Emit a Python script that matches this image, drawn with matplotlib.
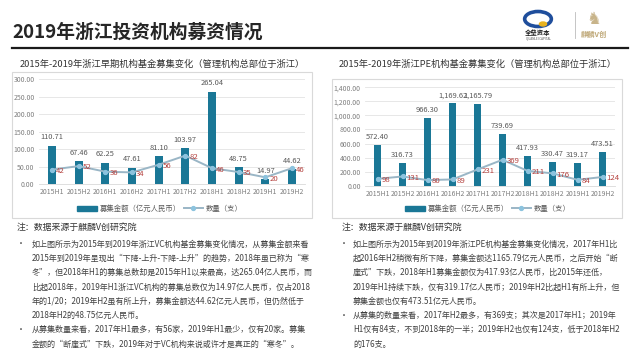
import matplotlib
matplotlib.use('Agg')
import matplotlib.pyplot as plt
from matplotlib.patches import Rectangle, Circle
from matplotlib.lines import Line2D

plt.rcParams['font.family'] = ['Noto Sans CJK SC', 'DejaVu Sans']

# data
periods = ['2015H1', '2015H2', '2016H1', '2016H2', '2017H1',
           '2017H2', '2018H1', '2018H2', '2019H1', '2019H2']
vc_amount = [110.71, 67.46, 62.25, 47.61, 81.10, 103.97, 265.04, 48.75, 14.97, 44.62]
vc_count = [42, 52, 36, 34, 56, 82, 46, 35, 20, 46]
pe_amount = [572.40, 316.73, 966.30, 1169.62, 1165.79, 739.69, 417.93, 330.47, 319.17, 473.51]
pe_count = [98, 131, 80, 89, 231, 369, 211, 176, 84, 124]

vc_ticks = [0, 50, 100, 150, 200, 250, 300]
pe_ticks = [0, 200, 400, 600, 800, 1000, 1200, 1400]

title = '2019年浙江投资机构募资情况'
vc_title = '2015年-2019年浙江早期机构基金募集变化（管理机构总部位于浙江）'
pe_title = '2015年-2019年浙江PE机构基金募集变化（管理机构总部位于浙江）'
legend_bar = '募集金额（亿元人民币）'
legend_line = '数量（支）'
note = '注：数据来源于麒麟V创研究院'

vc_text = [
    ['如上图所示为2015年到2019年浙江VC机构基金募集变化情况，从募集金额来看',
     '2015年到2019年呈现出“下降-上升-下降-上升”的趋势，2018年虽已称为“寒',
     '冬”，但2018年H1的募集总数却是2015年H1以来最高，达265.04亿人民币，而',
     '比起2018年，2019年H1浙江VC机构的募集总数仅为14.97亿人民币，仅占2018',
     '年的1/20；2019年H2虽有所上升，募集金额达44.62亿元人民币，但仍然低于',
     '2018年H2的48.75亿元人民币。'],
    ['从募集数量来看，2017年H1最多，有56家，2019年H1最少，仅有20家。募集',
     '金额的“断崖式”下跌，2019年对于VC机构来说或许才是真正的“寒冬”。'],
]
pe_text = [
    ['如上图所示为2015年到2019年浙江PE机构基金募集变化情况，2017年H1比',
     '起2016年H2稍微有所下降，募集金额达1165.79亿元人民币，之后开始“断',
     '崖式”下跌，2018年H1募集金额仅为417.93亿人民币，比2015年还低，',
     '2019年H1持续下跌，仅有319.17亿人民币；2019年H2比起H1有所上升，但',
     '募集金额也仅有473.51亿元人民币。'],
    ['从募集的数量来看，2017年H2最多，有369支；其次是2017年H1；2019年',
     'H1仅有84支，不到2018年的一半；2019年H2也仅有124支，低于2018年H2',
     '的176支。'],
]

W, H = 640, 360
BAR = '#1a7796'
LINE = '#9ab6c6'
MARK = '#8cc3de'
RED = '#b5423f'
GRAY = '#7f7f7f'

fig = plt.figure(figsize=(6.4, 3.6), dpi=100)
fig.patch.set_facecolor('white')


def px(x0, y0, x1, y1):
    """pixel box (top-left origin) -> figure rect"""
    return [x0 / W, 1 - y1 / H, (x1 - x0) / W, (y1 - y0) / H]


def fx(x):
    return x / W


def fy(y):
    return 1 - y / H


def draw_chart(box, plot, ttl, ttl_xy, amount, count, ticks, note_xy, leg_y, leg_cx):
    # light frame around the chart
    fig.patches.append(Rectangle((fx(box[0]), fy(box[3])), (box[2] - box[0]) / W,
                                 (box[3] - box[1]) / H, transform=fig.transFigure,
                                 fill=False, edgecolor='#d9d9d9', lw=0.8))
    fig.text(fx(ttl_xy[0]), fy(ttl_xy[1]), ttl, ha='center', va='center',
             fontsize=6.7, color='#333333')
    ax = fig.add_axes(px(*plot))
    x = list(range(len(periods)))
    ax.bar(x, amount, width=0.3, color=BAR, zorder=2)
    ax.plot(x, count, color=LINE, lw=1.4, marker='o', ms=2.8,
            markerfacecolor=MARK, markeredgecolor=MARK, zorder=3)
    for i, v in enumerate(amount):
        ax.annotate(f'{v:,.2f}', (i, v), xytext=(0, 3), textcoords='offset points',
                    ha='center', va='bottom', fontsize=5.4, color='#595959')
    for i, v in enumerate(count):
        ax.annotate(str(v), (i, v), xytext=(3, -1), textcoords='offset points',
                    ha='left', va='center', fontsize=5.6, color=RED, zorder=4)
    ax.set_xlim(-0.5, len(periods) - 0.5)
    ax.set_ylim(ticks[0], ticks[-1])
    ax.set_yticks(ticks)
    ax.set_yticklabels([f'{t:,.2f}' for t in ticks])
    ax.set_xticks(x)
    ax.set_xticklabels(periods)
    ax.tick_params(axis='both', length=0, labelsize=5, colors=GRAY, pad=3)
    ax.grid(axis='y', color='#e3e3e3', lw=0.6, zorder=0)
    for s in ax.spines.values():
        s.set_visible(False)
    ax.spines['bottom'].set_visible(True)
    ax.spines['bottom'].set_color('#d9d9d9')
    ax.spines['bottom'].set_linewidth(0.6)
    handles = [Rectangle((0, 0), 1, 1, color=BAR),
               Line2D([], [], color=LINE, lw=1.4, marker='o', ms=2.8,
                      markerfacecolor=MARK, markeredgecolor=MARK)]
    fig.legend(handles, [legend_bar, legend_line], loc='center',
               bbox_to_anchor=(fx(leg_cx), fy(leg_y)), ncol=2, frameon=False,
               fontsize=5.3, labelcolor='#595959', handlelength=2.6,
               handleheight=0.7, columnspacing=0.4, handletextpad=0.4)
    fig.text(fx(note_xy[0]), fy(note_xy[1]), note, ha='left', va='center',
             fontsize=6.4, color='#333333')


def draw_text(blocks, bx, tx, y0, step=14.3):
    y = y0
    for block in blocks:
        fig.text(fx(bx), fy(y), '•', ha='left', va='center', fontsize=5.8, color='#404040')
        for line in block:
            fig.text(fx(tx), fy(y), line, ha='left', va='center', fontsize=5.8,
                     color='#404040')
            y += step


# header
fig.text(fx(12), fy(32), title, ha='left', va='center', fontsize=13.5,
         fontweight='bold', color='#262626')
fig.lines.append(Line2D([fx(12), fx(628)], [fy(48), fy(48)], transform=fig.transFigure,
                        color='#1a1a1a', lw=1.6))

# logos (rough)
fig.patches.append(Circle((fx(538), fy(19)), 7.5 / H, transform=fig.transFigure,
                          fill=False, edgecolor='#1f4e9c', lw=2.6))
fig.patches.append(Circle((fx(543), fy(24)), 2.0 / H, transform=fig.transFigure,
                          color='#e8b21e'))
fig.text(fx(538), fy(33), '全垒资本', ha='center', va='center', fontsize=4.6,
         fontweight='bold', color='#1a1a1a')
fig.text(fx(538), fy(38.5), 'QUANLEI CAPITAL', ha='center', va='center', fontsize=2.2,
         color='#555555')
fig.lines.append(Line2D([fx(575), fx(575)], [fy(12), fy(38)], transform=fig.transFigure,
                        color='#bbbbbb', lw=0.6))
fig.text(fx(594), fy(19), '♞', ha='center', va='center', fontsize=12,
         color='#c8b48a', family=['DejaVu Sans'])
fig.text(fx(594), fy(34), '麒麟V创', ha='center', va='center', fontsize=5.2,
         fontweight='bold', color='#bfa878')

draw_chart((12, 72, 312, 218), (38.7, 79.3, 305.3, 184.3), vc_title, (162, 64),
           vc_amount, vc_count, vc_ticks, (17, 227), 209, 160)
draw_chart((332, 79, 622, 218), (365, 87.3, 615, 185.7), pe_title, (478, 64),
           pe_amount, pe_count, pe_ticks, (342, 227), 209, 488)

draw_text(vc_text, 17, 32, 244)
draw_text(pe_text, 340, 353, 244)

fig.savefig('out.png', dpi=100)
